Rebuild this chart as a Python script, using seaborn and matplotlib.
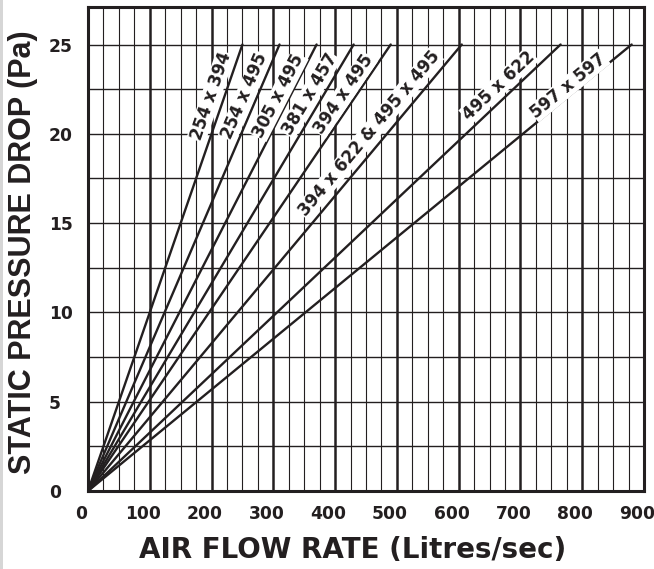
import numpy as np
import matplotlib
matplotlib.use("Agg")
import matplotlib.pyplot as plt
import matplotlib.transforms as mtransforms
from matplotlib.patches import Rectangle
import seaborn as sns
import pandas as pd

sns.set_theme(style="white")
plt.rcParams['font.family'] = ['DejaVu Sans']
plt.rcParams['font.weight'] = 'bold'

ink = "#231f20"

#%% data: air flow (l/s) reached at 25 Pa for each filter size
filters = ["254 x 394", "254 x 495", "305 x 495", "381 x 457", "394 x 495",
           "394 x 622 & 495 x 495", "495 x 622", "597 x 597"]
flow_at_25 = [250, 310, 370, 430, 490, 605, 765, 880]
dp_max = 25

x_ticks = [0, 100, 200, 300, 400, 500, 600, 700, 800, 900]
y_ticks = [0, 5, 10, 15, 20, 25]

rows = []
for name, q in zip(filters, flow_at_25):
    rows.append({"filter": name, "flow": 0, "dp": 0})
    rows.append({"filter": name, "flow": q, "dp": dp_max})
df = pd.DataFrame(rows)

#%% plot
fig = plt.figure(figsize=(6.54, 5.69), dpi=100)
ax = fig.add_axes([88/654, 1-491/569, 556/654, 484/569])

# light grey strip down the left edge of the sheet
fig.add_artist(Rectangle((0, 0), 3/654, 1, transform=fig.transFigure,
                         facecolor="#d6d6d6", edgecolor="none"))

# grid
for v in np.arange(25, 900, 25):
    major = v % 100 == 0
    ax.axvline(v, color=ink, lw=1.8 if major else 0.8, zorder=1)
for h in np.arange(2.5, 27, 2.5):
    ax.axhline(h, color=ink, lw=1.0, zorder=1)

sns.lineplot(data=df, x="flow", y="dp", hue="filter", units="filter",
             estimator=None, palette=[ink]*len(filters), legend=False,
             lw=1.7, ax=ax, zorder=3)

ax.set_xlim(0, 900)
ax.set_ylim(0, 27.1)
ax.set_xticks(x_ticks)
ax.set_yticks(y_ticks)
ax.tick_params(axis="both", length=0, colors=ink)
ax.tick_params(axis="x", pad=10, labelsize=12.3)
ax.tick_params(axis="y", pad=28, labelsize=12.3)
shift = mtransforms.ScaledTranslation(-7/100, 0, fig.dpi_scale_trans)
for lab in ax.get_xticklabels():
    lab.set_fontweight("bold")
    lab.set_transform(lab.get_transform() + shift)
for lab in ax.get_yticklabels():
    lab.set_fontweight("bold")
    lab.set_horizontalalignment("left")
for s in ax.spines.values():
    s.set_linewidth(2.2)
    s.set_color(ink)
    s.set_zorder(5)

ax.set_xlabel("AIR FLOW RATE (Litres/sec)", fontsize=20, fontweight="bold",
              color=ink, va="baseline")
ax.xaxis.set_label_coords(0.476, -0.1384)
ax.set_ylabel("STATIC PRESSURE DROP (Pa)", fontsize=22, fontweight="bold",
              color=ink, va="baseline", family="Liberation Sans")
ax.yaxis.set_label_coords(-0.1025, 0.493)

# line labels, parallel to each line
label_pos = [(199, 22.1), (254, 22.1), (309, 22.1), (359, 22.2), (414, 22.2),
             (455, 20.0), (665, 22.7), (778, 22.7)]
for name, q, (lx, ly) in zip(filters, flow_at_25, label_pos):
    ang = ax.transData.transform_angles(np.array([np.degrees(np.arctan2(dp_max, q))]),
                                        np.array([[0, 0]]))[0]
    ax.text(lx, ly, name, rotation=ang, rotation_mode="anchor",
            ha="center", va="center", fontsize=12, fontweight="bold",
            color=ink, zorder=4,
            bbox=dict(facecolor="white", edgecolor="none", pad=0.5))

fig.savefig("out.png", dpi=100)
